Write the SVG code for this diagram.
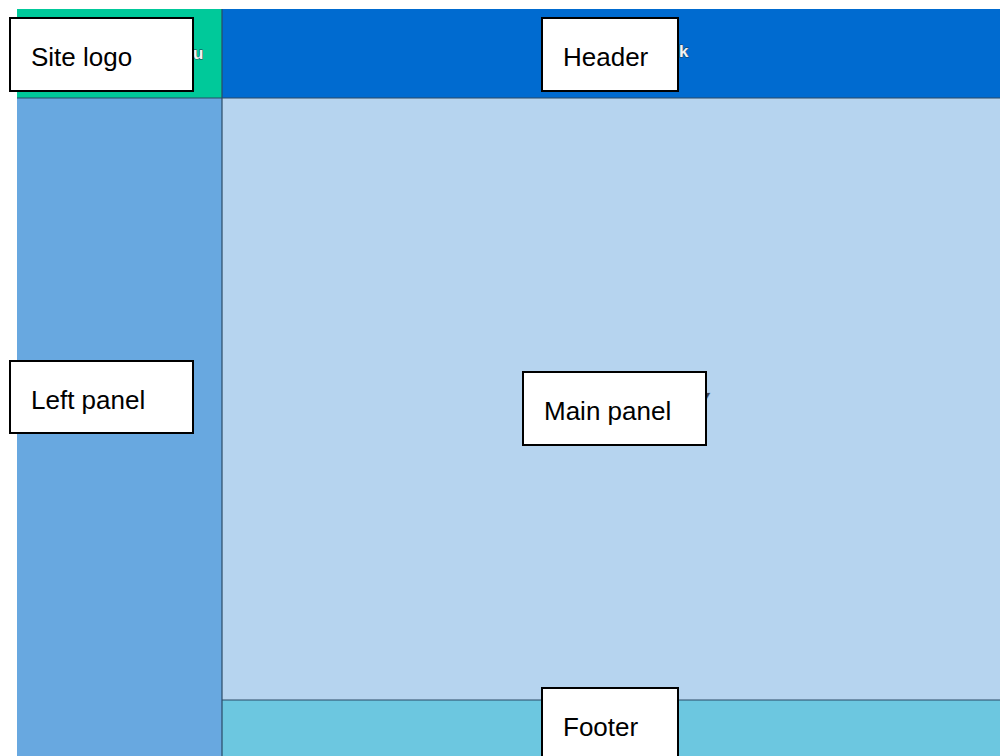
<svg xmlns="http://www.w3.org/2000/svg" width="1000" height="756" viewBox="0 0 1000 756">
<style>
.box{fill:#fff;stroke:#000;stroke-width:2}
.lbl{font-family:"Liberation Sans",Arial,sans-serif;font-size:26px;fill:#000}
.frag{font-family:"Liberation Sans",Arial,sans-serif;font-size:17px;font-weight:bold;fill:#f2f2f2;stroke:#1d3b4f;stroke-width:0.8;paint-order:stroke}
.sep{stroke:#2b4a66;stroke-width:1.2;fill:none}
</style>
<rect width="1000" height="756" fill="#fff"/>
<g id="regions">
<rect x="17" y="9" width="205" height="89" fill="#00C99A"/>
<rect x="222" y="9" width="778" height="89" fill="#006BD0"/>
<rect x="17" y="98" width="205" height="658" fill="#68A8E0"/>
<rect x="222" y="98" width="778" height="602" fill="#B6D4EF"/>
<rect x="222" y="700" width="778" height="56" fill="#6CC7E0"/>
</g>
<g id="connectors">
<line class="sep" x1="17" y1="98" x2="1000" y2="98"/>
<line class="sep" x1="222" y1="9" x2="222" y2="756"/>
<line class="sep" x1="222" y1="700" x2="1000" y2="700"/>
</g>
<g id="fragments">
<text class="frag" x="193" y="59">u</text>
<text class="frag" x="679" y="57">k</text>
<text class="frag" x="698" y="404" style="fill:#3a4450;stroke:#8aa0b8;stroke-width:0.6;font-weight:bold;font-style:italic;font-size:20px">y</text>
</g>
<g id="site-logo">
<rect class="box" x="10" y="18" width="183" height="73"/>
<text class="lbl" x="31" y="66">Site logo</text>
</g>
<g id="header">
<rect class="box" x="542" y="18" width="136" height="73"/>
<text class="lbl" x="563" y="66">Header</text>
</g>
<g id="left-panel">
<rect class="box" x="10" y="361" width="183" height="72"/>
<text class="lbl" x="31" y="409">Left panel</text>
</g>
<g id="main-panel">
<rect class="box" x="523" y="372" width="183" height="73"/>
<text class="lbl" x="544" y="420">Main panel</text>
</g>
<g id="footer">
<rect class="box" x="542" y="688" width="136" height="80"/>
<text class="lbl" x="563" y="736">Footer</text>
</g>
</svg>
